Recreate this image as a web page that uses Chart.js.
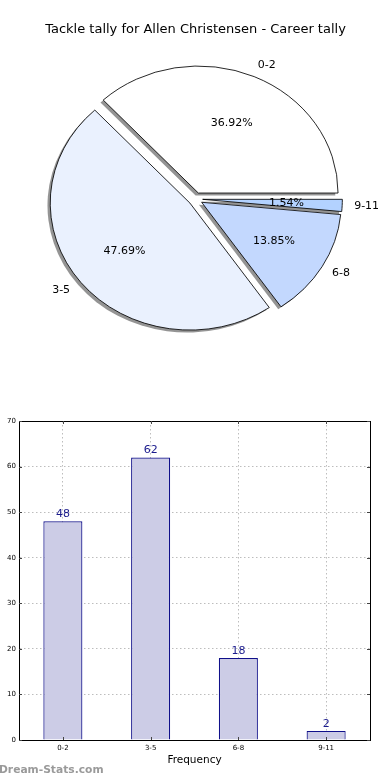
<!DOCTYPE html>
<html>
<head>
<meta charset="utf-8">
<script src="https://cdn.jsdelivr.net/npm/chart.js@4/dist/chart.umd.min.js"></script>
<style>
  html, body { margin: 0; padding: 0; background: #fff; }
  body { width: 390px; height: 780px; position: relative; overflow: hidden; font-family: "DejaVu Sans", sans-serif; }
  #pie { position: absolute; left: 0; top: 0; }
  #bar { position: absolute; left: 0; top: 400px; }
  #wm { position: absolute; left: -1px; top: 763px; font: bold 10.7px "DejaVu Sans", sans-serif; color: #9a9a9a; white-space: nowrap; }
</style>
</head>
<body>
<canvas id="pie" width="390" height="390"></canvas>
<canvas id="bar" width="390" height="380"></canvas>
<div id="wm">Dream-Stats.com</div>
<script>
// ---- data ----
const titleText = 'Tackle tally for Allen Christensen - Career tally';
const categories = ['0-2', '3-5', '6-8', '9-11'];
const tallies = [48, 62, 18, 2];
const pieColors = ['#ffffff', '#eaf1fe', '#c3d8fe', '#b3d2ff'];
const yMin = 0, yMax = 70, yStep = 10;
const xTitle = 'Frequency';

// ---- styling constants ----
const FONT = '"DejaVu Sans", sans-serif';
const SX = 1.10;      // horizontal stretch of the pie (elliptical axes)
const R = 127;        // pie radius (vertical, px)
const EXP = 6.5;      // explode distance
const SH = 2.5;       // shadow offset

const total = tallies.reduce((a, b) => a + b, 0);
// Chart.js goes clockwise; reference goes counter-clockwise from 3 o'clock
const pieLabels = categories.slice().reverse();
const pieValues = tallies.slice().reverse();
const pieBg = pieColors.slice().reverse();

const pieDraw = {
  id: 'pieDraw',
  beforeDatasetDraw(chart, args) {
    const ctx = chart.ctx;
    const arcs = args.meta.data;
    const cx = arcs[0].x, cy = arcs[0].y;
    ctx.save();
    ctx.translate(cx, cy); ctx.scale(SX, 1); ctx.translate(-cx, -cy);
    // shadow pass
    arcs.forEach(a => {
      const m = (a.startAngle + a.endAngle) / 2;
      const ghost = Object.create(a);
      ghost.options = { backgroundColor: 'rgba(0,0,0,0.42)', borderColor: 'rgba(0,0,0,0)', borderWidth: 0, offset: 0, spacing: 0, borderAlign: 'center', borderJoinStyle: 'round', circular: true, borderRadius: 0 };
      ctx.save();
      ctx.translate(Math.cos(m) * EXP - SH, Math.sin(m) * EXP + SH);
      ghost.draw(ctx, chart.chartArea);
      ctx.restore();
    });
    // slices
    arcs.forEach(a => {
      const m = (a.startAngle + a.endAngle) / 2;
      ctx.save();
      ctx.translate(Math.cos(m) * EXP, Math.sin(m) * EXP);
      a.draw(ctx, chart.chartArea);
      ctx.restore();
    });
    ctx.restore();
    return false;
  },
  afterDatasetsDraw(chart) {
    const ctx = chart.ctx;
    const meta = chart.getDatasetMeta(0);
    const vals = chart.data.datasets[0].data;
    ctx.save();
    ctx.fillStyle = '#000';
    ctx.font = '11px ' + FONT;
    meta.data.forEach((a, i) => {
      const m = (a.startAngle + a.endAngle) / 2;
      const c = Math.cos(m), s = Math.sin(m);
      // outer label
      const d1 = 1.1 * a.outerRadius + EXP;
      const lx = a.x + SX * c * d1, ly = a.y + s * d1;
      ctx.textBaseline = 'middle';
      ctx.textAlign = c >= 0 ? 'left' : 'right';
      ctx.fillText(chart.data.labels[i], lx + (c >= 0 ? -2 : 0), ly);
      // percentage
      const d2 = 0.6 * a.outerRadius + EXP;
      ctx.textAlign = 'center';
      ctx.fillText((vals[i] / total * 100).toFixed(2) + '%', a.x + SX * c * d2, a.y + s * d2);
    });
    ctx.restore();
  }
};

new Chart(document.getElementById('pie'), {
  type: 'pie',
  data: {
    labels: pieLabels,
    datasets: [{ data: pieValues, backgroundColor: pieBg, borderColor: '#000', borderWidth: 0.8 }]
  },
  options: {
    responsive: false,
    animation: false,
    rotation: 90,
    radius: R,
    layout: { padding: { top: 0, left: 1, right: 0, bottom: 39.6 } },
    plugins: {
      legend: { display: false },
      tooltip: { enabled: false },
      title: {
        display: true, text: titleText, color: '#000',
        font: { family: FONT, size: 13, weight: 'normal' },
        padding: { top: 22, bottom: 10 }
      }
    }
  },
  plugins: [pieDraw]
});

const barExtras = {
  id: 'barExtras',
  afterDatasetsDraw(chart) {
    const ctx = chart.ctx;
    const meta = chart.getDatasetMeta(0);
    ctx.save();
    ctx.fillStyle = '#1a1a8c';
    ctx.font = '11px ' + FONT;
    ctx.textAlign = 'center';
    ctx.textBaseline = 'middle';
    meta.data.forEach((b, i) => {
      ctx.fillText(String(chart.data.datasets[0].data[i]), b.x, b.y - 7);
    });
    ctx.restore();
  },
  afterDraw(chart) {
    const ctx = chart.ctx;
    const a = chart.chartArea;
    ctx.save();
    ctx.strokeStyle = '#000';
    ctx.lineWidth = 1;
    ctx.strokeRect(Math.round(a.left) + 0.5, Math.round(a.top) + 0.5, Math.round(a.right - a.left), Math.round(a.bottom - a.top));
    // inward tick marks
    ctx.strokeStyle = '#444';
    const xs = chart.scales.x, ys = chart.scales.y;
    xs.ticks.forEach((t, i) => {
      const x = Math.round(xs.getPixelForTick(i)) + 0.5;
      ctx.beginPath(); ctx.moveTo(x, a.top); ctx.lineTo(x, a.top + 3);
      ctx.moveTo(x, a.bottom); ctx.lineTo(x, a.bottom - 3); ctx.stroke();
    });
    ys.ticks.forEach((t, i) => {
      const y = Math.round(ys.getPixelForTick(i)) + 0.5;
      ctx.beginPath(); ctx.moveTo(a.left, y); ctx.lineTo(a.left + 3, y);
      ctx.moveTo(a.right, y); ctx.lineTo(a.right - 3, y); ctx.stroke();
    });
    ctx.restore();
  }
};

new Chart(document.getElementById('bar'), {
  type: 'bar',
  data: {
    labels: categories,
    datasets: [{
      data: tallies,
      backgroundColor: '#ccccE6',
      borderColor: '#10108a',
      borderWidth: 1.2,
      barPercentage: 0.445,
      categoryPercentage: 1
    }]
  },
  options: {
    responsive: false,
    animation: false,
    layout: { padding: { top: 21, right: 20, left: 0, bottom: 0 } },
    plugins: { legend: { display: false }, tooltip: { enabled: false } },
    scales: {
      x: {
        grid: { offset: false, color: '#bdbdbd', lineWidth: 1, drawTicks: false },
        border: { display: true, color: '#000', width: 1, dash: [1.5, 2.5] },
        ticks: { color: '#000', font: { family: FONT, size: 7 }, padding: 4, maxRotation: 0 },
        title: { display: true, text: xTitle, color: '#000', font: { family: FONT, size: 10.5 }, padding: { top: 0, bottom: 13.7 } },
        afterFit(s) { s.height = 40; }
      },
      y: {
        min: yMin, max: yMax,
        grid: { color: '#bdbdbd', lineWidth: 1, drawTicks: false },
        border: { display: true, color: '#000', width: 1, dash: [1.5, 2.5] },
        ticks: { stepSize: yStep, color: '#000', font: { family: FONT, size: 7 }, padding: 3 },
        afterFit(s) { s.width = 19; }
      }
    }
  },
  plugins: [barExtras]
});
</script>
</body>
</html>
